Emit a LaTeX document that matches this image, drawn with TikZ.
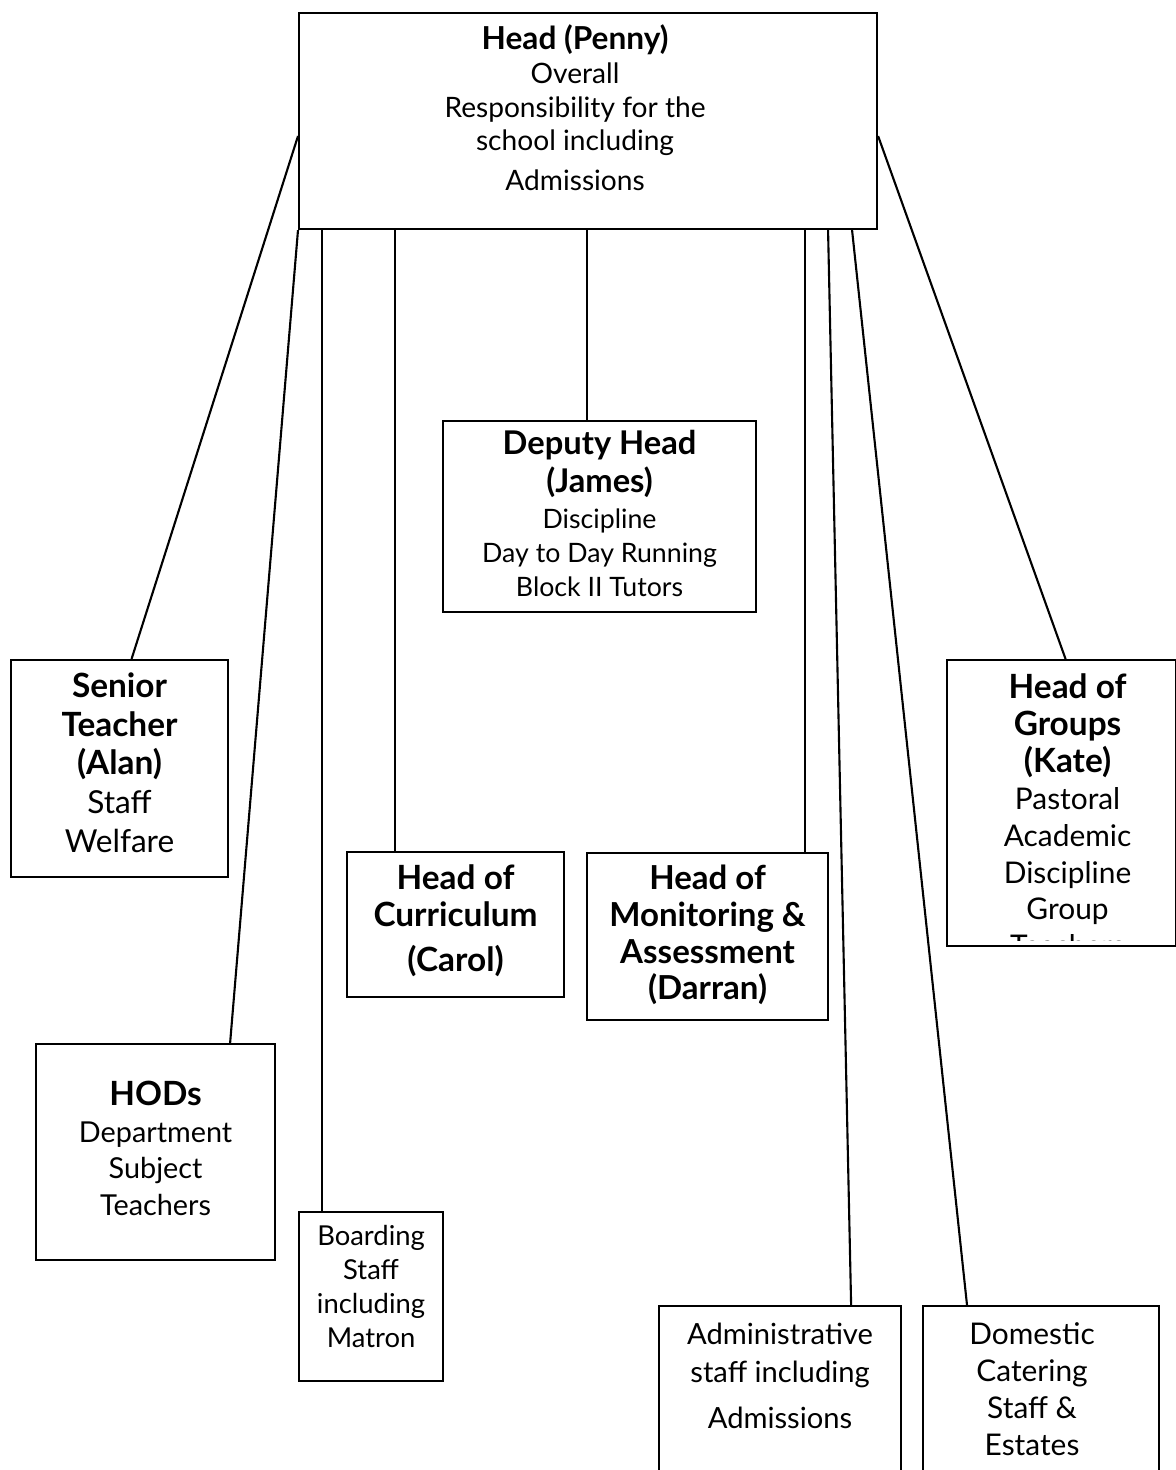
\documentclass[tikz,border=0pt]{standalone}
\usepackage{fontspec}
\setmainfont{Lato}
\newcommand{\fz}[2]{\fontsize{#1}{#2}\selectfont}
\tikzset{
	box/.style={draw, line width=0.6pt, anchor=north west, inner sep=0pt},
	txt/.style={anchor=north, align=center, inner sep=0pt},
	link/.style={line width=0.6pt}
}
\begin{document}
\begin{tikzpicture}
		\useasboundingbox (0,0) rectangle (11.76,-14.70);
		\clip (0,0) rectangle (11.76,-14.70);
		
		% boxes
		\node [box, minimum width=5.78cm, minimum height=2.16cm] (head) at (2.98,-0.12) {};
		\node [box, minimum width=3.13cm, minimum height=1.91cm] (deputy) at (4.42,-4.20) {};
		\node [box, minimum width=2.17cm, minimum height=2.17cm] (senior) at (0.10,-6.59) {};
		\node [box, minimum width=2.29cm, minimum height=2.86cm] (groups) at (9.46,-6.59) {};
		\node [box, minimum width=2.17cm, minimum height=1.45cm] (curric) at (3.46,-8.51) {};
		\node [box, minimum width=2.41cm, minimum height=1.67cm] (monit) at (5.86,-8.52) {};
		\node [box, minimum width=2.39cm, minimum height=2.16cm] (hods) at (0.35,-10.43) {};
		\node [box, minimum width=1.44cm, minimum height=1.69cm] (boarding) at (2.98,-12.11) {};
		\node [box, minimum width=2.42cm, minimum height=2.00cm] (admin) at (6.58,-13.05) {};
		\node [box, minimum width=2.36cm, minimum height=2.00cm] (domestic) at (9.22,-13.05) {};
		
		% texts
		\node [txt, font=\fz{8}{9.6}] (head-t) at ([xshift=-0.13cm, yshift=-0.12cm]head.north)
			{\textbf{\fz{9}{9.6}Head (Penny)}\\ Overall\\ Responsibility for the\\ school including\\[1.7pt] Admissions};
		\node [txt, font=\fz{7.6}{9.6}] (deputy-t) at ([yshift=-0.10cm]deputy.north)
			{\textbf{\fz{9.3}{9.6}Deputy Head}\\[1.2pt] \textbf{\fz{9.3}{9.6}(James)}\\[0.6pt] Discipline\\ Day to Day Running\\ Block II Tutors};
		\node [txt, font=\fz{9}{11}] (senior-t) at ([yshift=-0.13cm]senior.north)
			{\textbf{\fz{9.5}{11}Senior}\\ \textbf{\fz{9.5}{11}Teacher}\\ \textbf{\fz{9.5}{11}(Alan)}\\ Staff\\ Welfare};
		\begin{scope}
		\clip (groups.north west) rectangle ([yshift=0.07cm]groups.south east);
		\node [txt, font=\fz{8.5}{10.5}] (groups-t) at ([xshift=0.06cm, yshift=-0.14cm]groups.north)
			{\textbf{\fz{9.5}{10.5}Head of}\\ \textbf{\fz{9.5}{10.5}Groups}\\ \textbf{\fz{9.5}{10.5}(Kate)}\\ Pastoral\\ Academic\\ Discipline\\ Group\\ Teachers};
		\end{scope}
		\node [txt, font=\fz{9.5}{10.5}\bfseries] (curric-t) at ([yshift=-0.13cm]curric.north)
			{Head of\\ Curriculum\\[2.3pt] (Carol)};
		\node [txt, font=\fz{9.4}{10.5}\bfseries] (monit-t) at ([yshift=-0.12cm]monit.north)
			{Head of\\ Monitoring \&\\ Assessment\\ (Darran)};
		\node [txt, font=\fz{8.2}{10.5}] (hods-t) at ([yshift=-0.37cm]hods.north)
			{\textbf{\fz{9.5}{10.5}HODs}\\ Department\\ Subject\\ Teachers};
		\node [txt, font=\fz{7.8}{9.6}] (boarding-t) at ([yshift=-0.14cm]boarding.north)
			{Boarding\\ Staff\\ including\\ Matron};
		\node [txt, font=\fz{8.3}{10.8}] (admin-t) at ([yshift=-0.17cm]admin.north)
			{Administrative\\ staff including\\[2.5pt] Admissions};
		\node [txt, font=\fz{8.5}{10.5}] (domestic-t) at ([xshift=-0.09cm, yshift=-0.17cm]domestic.north)
			{Domestic\\ Catering\\ Staff \&\\ Estates};
		
		% links
		\draw [link] ([yshift=-0.15cm]head.west) -- ([xshift=0.12cm]senior.north);
		\draw [link] (head.south west) -- ([xshift=-0.46cm]hods.north east);
		\draw [link] ([yshift=-0.15cm]head.east) -- ([xshift=0.04cm]groups.north);
		
		\coordinate (boarding-in) at ([xshift=0.24cm]boarding.north west);
		\coordinate (curric-in) at ([xshift=0.49cm]curric.north west);
		\coordinate (deputy-in) at ([xshift=-0.125cm]deputy.north);
		\coordinate (monit-in) at ([xshift=-0.24cm]monit.north east);
		\draw [link] (boarding-in |- head.south) -- (boarding-in);
		\draw [link] (curric-in |- head.south) -- (curric-in);
		\draw [link] (deputy-in |- head.south) -- (deputy-in);
		\draw [link] (monit-in |- head.south) -- (monit-in);
		
		\draw [link] ([xshift=2.40cm]head.south) -- ([xshift=-0.51cm]admin.north east);
		\draw [link] ([xshift=2.64cm]head.south) -- ([xshift=0.45cm]domestic.north west);
		
		\end{tikzpicture}
\end{document}
